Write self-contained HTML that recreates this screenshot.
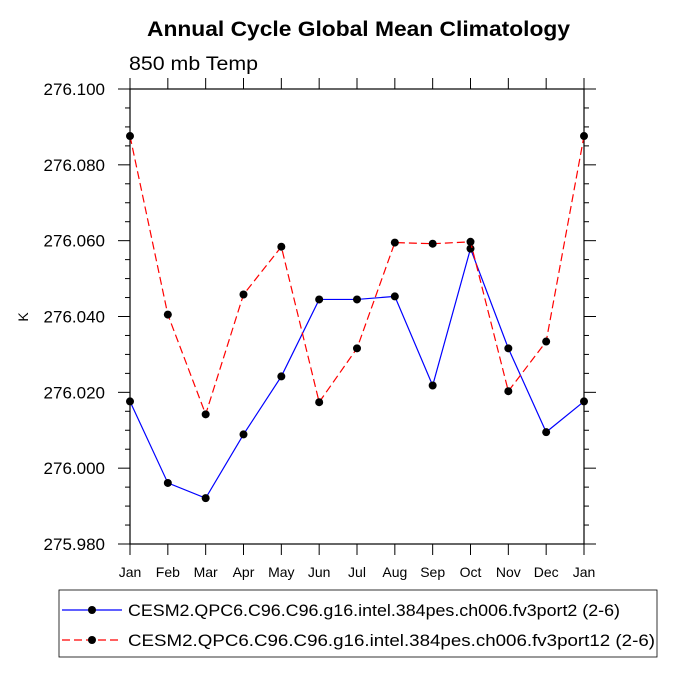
<!DOCTYPE html>
<html><head><meta charset="utf-8"><style>body{margin:0;background:#fff}</style></head>
<body>
<svg id="c" width="675" height="675" xmlns="http://www.w3.org/2000/svg" font-family="Liberation Sans, Arial, sans-serif">
<text x="147" y="36" textLength="423" lengthAdjust="spacingAndGlyphs" font-size="21" font-weight="bold">Annual Cycle Global Mean Climatology</text>
<text x="129" y="70" textLength="129" lengthAdjust="spacingAndGlyphs" font-size="19">850 mb Temp</text>
<text transform="translate(28,317) rotate(-90)" text-anchor="middle" font-size="14">K</text>
<g id="axes"></g>
<g id="series"></g>
<rect x="59" y="590" width="598" height="67" fill="none" stroke="#000" stroke-width="0.8"/>
<g>
<line x1="62" y1="610" x2="122" y2="610" stroke="#00f" stroke-width="1.2"/>
<circle cx="92" cy="610" r="4" fill="#000"/>
<text x="128" y="616" font-size="17" textLength="492" lengthAdjust="spacingAndGlyphs">CESM2.QPC6.C96.C96.g16.intel.384pes.ch006.fv3port2 (2-6)</text></g>
<g>
<line x1="62" y1="640" x2="122" y2="640" stroke="#f00" stroke-width="1.2" stroke-dasharray="8,4"/>
<circle cx="92" cy="640" r="4" fill="#000"/>
<text x="128" y="646" font-size="17" textLength="527" lengthAdjust="spacingAndGlyphs">CESM2.QPC6.C96.C96.g16.intel.384pes.ch006.fv3port12 (2-6)</text></g>
</svg>
<script>
const months=["Jan","Feb","Mar","Apr","May","Jun","Jul","Aug","Sep","Oct","Nov","Dec","Jan"];
const port2=[276.0176,275.9961,275.9921,276.0089,276.0242,276.0445,276.0445,276.0453,276.0218,276.0579,276.0316,276.0095,276.0176];
const port12=[276.0876,276.0405,276.0142,276.0458,276.0584,276.0174,276.0316,276.0595,276.0592,276.0597,276.0203,276.0334,276.0876];
const yTicks=["275.980","276.000","276.020","276.040","276.060","276.080","276.100"];
const L=130,R=584,T=89,B=544,ymin=275.98,ymax=276.1;
const X=i=>L+(R-L)*i/(months.length-1);
const Y=v=>B-(B-T)*(v-ymin)/(ymax-ymin);
const NS="http://www.w3.org/2000/svg";
function mk(p,tag,a){const e=document.createElementNS(NS,tag);for(const k in a)e.setAttribute(k,a[k]);p.appendChild(e);return e;}
const ax=document.getElementById('axes');
const fr=mk(ax,'rect',{x:L,y:T,width:R-L,height:B-T,fill:'none',stroke:'#000','stroke-width':1.2});


months.forEach((m,i)=>{const x=X(i);
 mk(ax,'line',{x1:x,y1:B,x2:x,y2:B+11,stroke:'#000'});
 mk(ax,'line',{x1:x,y1:T,x2:x,y2:T-11,stroke:'#000'});
 const t=mk(ax,'text',{x:x,y:B+33,'text-anchor':'middle','font-size':14});t.textContent=m;
 
 
});
for(let k=0;k<=24;k++){const v=ymin+k*0.005,y=Y(v),maj=k%4===0,len=maj?12:5;
 mk(ax,'line',{x1:L,y1:y,x2:L-len,y2:y,stroke:'#000'});
 mk(ax,'line',{x1:R,y1:y,x2:R+len,y2:y,stroke:'#000'});
 if(maj){const t=mk(ax,'text',{x:L-25,y:y+6,'text-anchor':'end','font-size':17});t.textContent=yTicks[k/4];
 
 }
}
const sg=document.getElementById('series');
[[port2,'#00f',null,'series-port2'],[port12,'#f00','8,4','series-port12']].forEach(([d,c,da,n])=>{
 const g=mk(sg,'g',{});
 
 
 const a={points:d.map((v,i)=>X(i)+','+Y(v)).join(' '),fill:'none',stroke:c,'stroke-width':1.2};
 if(da)a['stroke-dasharray']=da;
 mk(g,'polyline',a);
 d.forEach((v,i)=>{const p=mk(g,'circle',{cx:X(i),cy:Y(v),r:4,fill:'#000'});
 
 });
});
</script>
</body></html>
